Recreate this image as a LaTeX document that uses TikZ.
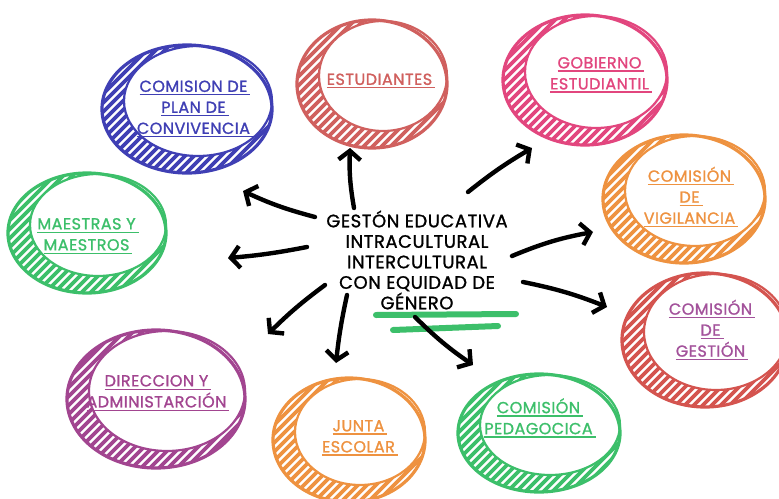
\documentclass[tikz,border=0pt]{standalone}
\usepackage{fontspec}
\setmainfont{Poppins}[LetterSpace=3, FakeBold=1.2]
\usetikzlibrary{arrows.meta}
\definecolor{cblue}{HTML}{3F3FB4}
\definecolor{cred}{HTML}{D0605E}
\definecolor{cpink}{HTML}{E2467E}
\definecolor{corange}{HTML}{EE9240}
\definecolor{cred2}{HTML}{D4544F}
\definecolor{cpurp}{HTML}{A3529B}
\definecolor{cgreen}{HTML}{3CBF6A}
\definecolor{cdir}{HTML}{A24590}
\newcommand\ulx[1]{\sbox0{#1\hspace{3pt}}\rlap{\rule[-3.5pt]{\wd0}{1.4pt}}\usebox0}
% cx cy rx ry color
\newcommand\hcirc[5]{%
  \begin{scope}
    \clip (#1,#2) ellipse [x radius=#3pt, y radius=#4pt];
    \foreach \k in {-25,...,25}
      \draw[#5, line width=3.6pt] ({#1+\k*9-100},{#2+100}) -- ++(200,-200);
  \end{scope}
  \fill[white] ({#1+11},{#2-8}) ellipse [x radius={#3pt-11pt}, y radius={#4pt-9pt}];
  \draw[#5, line width=2.2pt] ({#1+11},{#2-8}) ellipse [x radius={#3pt-11pt}, y radius={#4pt-9pt}];
  \draw[#5, line width=3.2pt] (#1,#2) ellipse [x radius=#3pt, y radius=#4pt];
}
\tikzset{
  lbl/.style={align=center, font=\fontsize{16}{21}\selectfont, inner sep=0pt},
  arr/.style={line width=4.4pt, line cap=round, line join=round, -{Straight Barb[length=9pt,width=22pt,line width=4.4pt]}},
  gline/.style={cgreen, line width=6pt, line cap=round},
}
\begin{document}
\begin{tikzpicture}[x=1pt,y=-1pt]
\useasboundingbox (0,0) rectangle (779,498);
\fill[white] (0,0) rectangle (779,498);

\hcirc{187}{109}{85}{64}{cblue}
\hcirc{372}{84}{75}{64}{cred}
\hcirc{585}{80}{82}{65}{cpink}
\hcirc{684}{199}{81}{64}{corange}
\hcirc{705}{340}{83}{67}{cred2}
\hcirc{539}{433}{81}{59}{cgreen}
\hcirc{349}{440}{76}{62}{corange}
\hcirc{156}{399}{89}{69}{cdir}
\hcirc{87}{233}{79}{60}{cgreen}

\node[lbl, text=cblue] (plan) at (195,109) {\ulx{COMISION DE}\\\ulx{PLAN DE}\\\ulx{CONVIVENCIA}};
\node[lbl, text=cred] (estud) at (381,81) {\ulx{ESTUDIANTES}};
\node[lbl, text=cpink] (gob) at (601,75) {\ulx{GOBIERNO}\\\ulx{ESTUDIANTIL}};
\node[lbl, text=corange] (vig) at (691,197) {\ulx{COMISIÓN}\\\ulx{DE}\\\ulx{VIGILANCIA}};
\node[lbl, text=cpurp] (gest) at (712,330) {\ulx{COMISIÓN}\\\ulx{DE}\\\ulx{GESTIÓN}};
\node[lbl, text=cgreen] (ped) at (540,418) {\ulx{COMISIÓN}\\\ulx{PEDAGOCICA}};
\node[lbl, text=corange] (junta) at (360,438) {\ulx{JUNTA}\\\ulx{ESCOLAR}};
\node[lbl, text=cdir] (dir) at (158,393) {\ulx{DIRECCION Y}\\\ulx{ADMINISTARCIÓN}};
\node[lbl, text=cgreen] (maes) at (88,236) {\ulx{MAESTRAS Y}\\\ulx{MAESTROS}};

\node[align=center, font=\fontsize{18}{20.5}\selectfont, inner sep=0pt] (center) at (417,260)
  {GESTÓN EDUCATIVA\\INTRACULTURAL\\INTERCULTURAL\\CON EQUIDAD DE\\GÉNERO};

\coordinate (g1a) at (376,315); \coordinate (g1b) at (516,314);
\coordinate (g2a) at (393,330); \coordinate (g2b) at (498,326);
\draw[gline] (g1a) -- (g1b);
\draw[gline] (g2a) -- (g2b);

\coordinate (t1) at (354,208); \coordinate (h1) at (350,148);
\coordinate (t2) at (315,217); \coordinate (h2) at (243,191);
\coordinate (t3) at (307,247); \coordinate (h3) at (228,258);
\coordinate (t4) at (325,285); \coordinate (h4) at (268,334);
\coordinate (t5) at (347,295); \coordinate (h5) at (336,363);
\coordinate (t6) at (415,317); \coordinate (h6) at (473,365);
\coordinate (t7) at (523,282); \coordinate (h7) at (607,307);
\coordinate (t8) at (512,256); \coordinate (h8) at (593,232);
\coordinate (t9) at (468,192); \coordinate (h9) at (532,148);

\draw[arr] (t1) to[bend left=6] (h1);
\draw[arr] (t2) to[bend left=5] (h2);
\draw[arr] (t3) to[bend left=3] (h3);
\draw[arr] (t4) to[bend right=4] (h4);
\draw[arr] (t5) to[bend right=3] (h5);
\draw[arr] (t6) to[bend right=5] (h6);
\draw[arr] (t7) to[bend left=5] (h7);
\draw[arr] (t8) to[bend left=6] (h8);
\draw[arr] (t9) to[bend left=4] (h9);
\end{tikzpicture}
\end{document}
